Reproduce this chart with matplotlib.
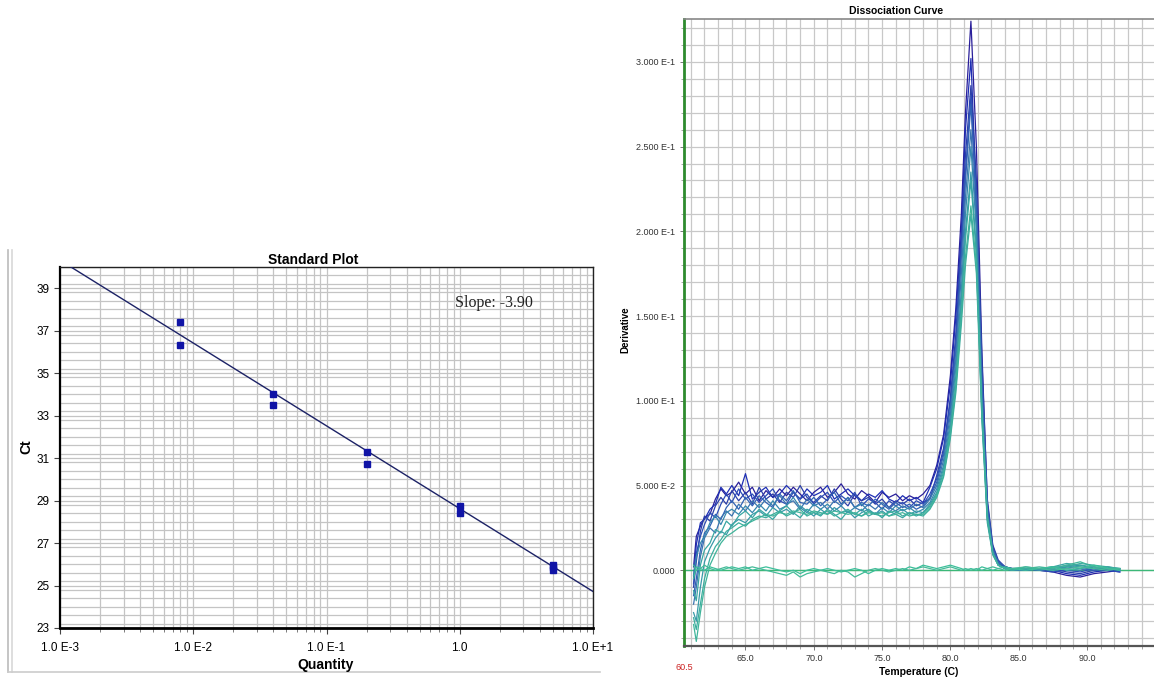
import numpy as np
import matplotlib
matplotlib.use("Agg")
import matplotlib.pyplot as plt
from matplotlib.lines import Line2D
from matplotlib.ticker import LogLocator, FixedLocator, MultipleLocator, NullFormatter

plt.rcParams['font.family'] = ['Liberation Sans', 'DejaVu Sans']

# ---------------- Standard plot data ----------------
quantity = [0.008, 0.008, 0.04, 0.04, 0.2, 0.2, 1.0, 1.0, 5.0, 5.0, 5.0]
ct_values = [37.4, 36.35, 34.0, 33.5, 31.3, 30.7, 28.75, 28.4, 25.98, 25.85, 25.75]
slope = -3.90
intercept = 28.62
std_xticks = [1e-3, 1e-2, 1e-1, 1.0, 1e1]
std_xlabels = ["1.0 E-3", "1.0 E-2", "1.0 E-1", "1.0", "1.0 E+1"]
std_yticks = [23, 25, 27, 29, 31, 33, 35, 37, 39]

# ---------------- Dissociation curve data ----------------
temperature = [61.2, 61.4, 61.7, 62.0, 62.4, 62.8, 63.2, 63.6, 64.0,
               64.5, 65.0, 65.5, 66.0, 66.5, 67.0, 67.5, 68.0, 68.5, 69.0, 69.5, 70.0,
               70.5, 71.0, 71.5, 72.0, 72.5, 73.0, 73.5, 74.0, 74.5, 75.0, 75.5, 76.0,
               76.5, 77.0, 77.5, 78.0,
               78.5, 79.0, 79.5, 80.0, 80.4, 80.8, 81.1, 81.5,
               81.9, 82.3, 82.7, 83.1, 83.5, 84.0, 84.5,
               85.5, 86.5, 87.5, 88.5, 89.5, 90.5, 91.5, 92.4]

# derivative values in units of 1E-2
deriv_a = [0.2, 2.0, 2.6, 3.1, 3.3, 4.2, 4.8, 4.4, 4.6,
           5.2, 4.5, 4.9, 4.1, 4.7, 4.3, 4.8, 4.4, 4.9, 4.5, 4.1, 4.6,
           4.9, 4.3, 4.6, 5.1, 4.5, 4.2, 4.7, 4.4, 4.0, 4.6, 4.3, 4.5, 4.1, 4.4, 4.2, 4.5,
           5.0, 6.2, 8.0, 11.5, 15.5, 21.0, 27.0, 32.4,
           25.0, 13.0, 4.0, 1.4, 0.5, 0.2, 0.1,
           0.1, 0.0, -0.1, -0.3, -0.4, -0.2, -0.1, 0.0]
deriv_b = [-0.5, 1.5, 2.8, 3.0, 3.6, 3.9, 4.9, 4.5, 5.0,
           4.4, 5.7, 4.2, 4.6, 4.9, 4.3, 4.5, 5.0, 4.6, 4.2, 4.8, 4.4,
           4.6, 5.0, 4.2, 4.5, 4.8, 4.4, 4.1, 4.5, 4.3, 4.7, 4.2, 4.0, 4.4, 4.1, 4.3, 4.0,
           4.9, 6.0, 7.8, 11.0, 15.0, 20.0, 26.0, 30.2,
           22.0, 11.0, 3.5, 1.2, 0.4, 0.2, 0.1,
           0.0, 0.1, 0.0, -0.2, -0.3, -0.1, 0.0, -0.1]
deriv_c = [-1.0, 0.5, 2.3, 3.2, 2.9, 3.8, 4.3, 3.9, 4.7,
           4.1, 4.6, 3.9, 4.9, 4.2, 4.5, 4.0, 4.6, 4.3, 5.0, 4.3, 4.0,
           4.4, 4.1, 4.8, 4.2, 3.8, 4.5, 4.1, 4.3, 3.9, 4.2, 3.7, 4.1, 3.9, 4.2, 3.8, 4.0,
           4.2, 5.6, 7.2, 10.2, 14.0, 19.5, 24.5, 28.6,
           23.0, 12.5, 4.2, 1.5, 0.6, 0.2, 0.1,
           0.1, 0.0, 0.1, -0.1, -0.2, 0.0, 0.1, 0.0]
deriv_d = [-0.8, 1.0, 2.0, 2.7, 3.4, 3.1, 3.9, 4.5, 4.0,
           4.8, 4.2, 4.5, 4.0, 4.4, 4.8, 4.1, 3.9, 4.6, 4.2, 4.5, 3.9,
           4.3, 4.6, 4.0, 4.4, 4.1, 4.6, 3.8, 4.2, 4.0, 3.6, 4.1, 3.8, 4.0, 3.7, 4.1, 3.9,
           4.5, 5.4, 7.0, 10.0, 13.5, 19.0, 23.5, 28.0,
           21.0, 10.5, 3.2, 1.1, 0.4, 0.1, 0.0,
           0.1, 0.0, -0.1, 0.0, -0.1, 0.1, 0.0, -0.1]
deriv_e = [-1.5, -0.5, 1.2, 2.2, 2.6, 3.3, 3.0, 3.7, 4.1,
           3.6, 4.3, 3.8, 4.4, 4.0, 3.7, 4.5, 4.1, 4.7, 4.0, 3.9, 4.3,
           3.8, 4.2, 4.6, 3.9, 4.3, 3.7, 4.0, 3.8, 4.2, 3.9, 3.6, 4.0, 3.7, 3.9, 3.6, 3.8,
           4.3, 5.2, 6.8, 9.6, 13.0, 18.5, 23.0, 27.5,
           22.0, 11.5, 3.8, 1.3, 0.5, 0.2, 0.0,
           0.0, 0.1, 0.0, 0.2, 0.1, 0.0, 0.1, 0.0]
deriv_f = [-2.0, -1.0, 0.8, 1.9, 2.5, 2.2, 3.1, 3.5, 3.2,
           3.9, 3.5, 4.1, 3.7, 4.2, 3.8, 4.4, 3.9, 4.1, 3.6, 4.2, 3.8,
           4.0, 3.6, 4.1, 3.8, 4.3, 3.7, 3.5, 3.9, 3.6, 4.0, 3.7, 3.5, 3.8, 3.6, 3.9, 3.7,
           4.2, 5.0, 6.5, 9.2, 12.5, 17.5, 22.0, 26.0,
           20.5, 10.5, 3.5, 1.2, 0.4, 0.1, 0.0,
           0.1, 0.0, 0.2, 0.1, 0.0, 0.2, 0.0, 0.1]
deriv_g = [-0.3, 0.8, 1.6, 2.0, 2.8, 3.2, 2.7, 3.4, 3.6,
           3.3, 3.8, 3.4, 3.9, 3.5, 4.1, 3.6, 3.8, 4.3, 3.7, 3.4, 3.9,
           3.6, 3.9, 3.5, 3.8, 3.4, 3.7, 3.9, 3.5, 3.3, 3.7, 3.4, 3.8, 3.5, 3.7, 3.4, 3.6,
           4.0, 4.8, 6.2, 8.8, 12.0, 16.5, 21.0, 25.0,
           20.0, 10.0, 3.3, 1.0, 0.3, 0.1, 0.0,
           0.0, 0.1, 0.0, 0.2, 0.3, 0.1, 0.2, 0.0]
deriv_h = [-2.5, -3.0, -1.0, 0.5, 1.3, 1.9, 2.3, 2.1, 2.7,
           3.0, 2.8, 3.3, 3.5, 3.2, 3.7, 3.4, 3.6, 3.3, 3.8, 3.5, 3.2,
           3.6, 3.3, 3.7, 3.4, 3.5, 3.1, 3.4, 3.6, 3.3, 3.5, 3.2, 3.4, 3.6, 3.3, 3.5, 3.4,
           3.9, 4.6, 6.0, 8.5, 11.5, 16.0, 20.0, 23.5,
           19.0, 9.5, 3.0, 1.0, 0.3, 0.1, 0.1,
           0.1, 0.0, 0.1, 0.3, 0.2, 0.1, 0.2, 0.1]
deriv_i = [-1.2, -1.8, 0.3, 1.2, 1.6, 2.4, 2.2, 2.9, 2.6,
           3.2, 3.5, 3.1, 3.6, 3.3, 3.0, 3.5, 3.8, 3.4, 3.1, 3.6, 3.4,
           3.2, 3.6, 3.3, 3.0, 3.5, 3.3, 3.6, 3.2, 3.4, 3.1, 3.5, 3.3, 3.1, 3.4, 3.2, 3.4,
           3.8, 4.5, 5.8, 8.2, 11.0, 15.5, 19.5, 23.0,
           18.5, 9.0, 2.8, 0.9, 0.3, 0.1, 0.0,
           0.2, 0.1, 0.2, 0.4, 0.3, 0.2, 0.1, 0.0]
deriv_j = [-3.2, -4.2, -2.5, -1.0, 0.3, 1.0, 1.6, 2.0, 2.2,
           2.5, 2.7, 2.9, 3.1, 3.3, 3.2, 3.4, 3.3, 3.5, 3.4, 3.3, 3.5,
           3.4, 3.3, 3.5, 3.4, 3.3, 3.4, 3.2, 3.4, 3.3, 3.4, 3.2, 3.3, 3.4, 3.2, 3.3, 3.3,
           3.7, 4.4, 5.6, 8.0, 10.8, 15.0, 18.5, 21.5,
           18.0, 9.5, 3.2, 1.0, 0.3, 0.1, 0.1,
           0.1, 0.2, 0.1, 0.3, 0.5, 0.2, 0.1, 0.1]
deriv_k = [-2.8, -3.5, -2.0, -0.5, 0.7, 1.4, 1.8, 2.3, 2.5,
           2.8, 2.6, 3.0, 3.2, 3.1, 3.3, 3.5, 3.2, 3.4, 3.6, 3.2, 3.4,
           3.3, 3.5, 3.2, 3.4, 3.6, 3.3, 3.2, 3.5, 3.3, 3.2, 3.4, 3.5, 3.2, 3.4, 3.3, 3.2,
           3.6, 4.3, 5.5, 7.8, 10.5, 14.5, 18.0, 21.0,
           17.5, 9.0, 3.0, 1.0, 0.3, 0.1, 0.0,
           0.1, 0.1, 0.2, 0.2, 0.4, 0.3, 0.2, 0.1]
deriv_ntc1 = [-0.5, 0.2, 0.1, 0.0, 0.2, 0.1, 0.0, 0.1, 0.2,
              0.1, 0.2, 0.0, 0.1, 0.2, 0.1, 0.0, -0.1, 0.0, -0.2, 0.0, 0.1,
              0.0, 0.1, 0.0, -0.1, 0.0, 0.1, 0.0, -0.2, 0.0, 0.1, 0.0, 0.1, 0.0, 0.2, 0.1, 0.3,
              0.2, 0.1, 0.2, 0.3, 0.2, 0.1, 0.0, 0.1,
              0.0, 0.2, 0.1, 0.0, 0.1, 0.2, 0.1,
              0.0, 0.1, 0.2, 0.0, 0.1, 0.3, 0.1, 0.0]
deriv_ntc2 = [0.3, 0.0, 0.1, 0.3, 0.1, 0.0, 0.1, 0.2, 0.1,
              0.0, 0.1, 0.2, 0.1, 0.0, -0.1, -0.2, -0.3, -0.1, -0.4, -0.2, -0.1,
              0.0, -0.1, -0.2, 0.0, -0.1, -0.4, -0.2, 0.0, 0.1, 0.0, -0.1, 0.0, 0.1, 0.0, 0.1, 0.2,
              0.1, 0.0, 0.1, 0.2, 0.1, 0.0, 0.1, 0.0,
              0.1, 0.0, 0.1, 0.2, 0.1, 0.0, 0.1,
              0.2, 0.1, 0.0, 0.1, 0.2, 0.1, 0.0, 0.1]

curves = [deriv_a, deriv_b, deriv_c, deriv_d, deriv_e, deriv_f,
          deriv_g, deriv_h, deriv_i, deriv_j, deriv_k, deriv_ntc1, deriv_ntc2]
curve_colors = ["#2a1f9a", "#1e2fb4", "#2c3fa8", "#2d4db6", "#2f62b4", "#3a74b0",
                "#3688ae", "#389aa8", "#38a6a2", "#40b49a", "#3cae9e", "#3cbf9a", "#44bb98"]

diss_yticks = [0.0, 0.05, 0.10, 0.15, 0.20, 0.25, 0.30]
diss_ylabels = ["0.000", "5.000 E-2", "1.000 E-1", "1.500 E-1", "2.000 E-1", "2.500 E-1", "3.000 E-1"]
diss_xticks = [65.0, 70.0, 75.0, 80.0, 85.0, 90.0]

# ---------------- Figure ----------------
W, H = 1154, 679
fig = plt.figure(figsize=(W / 100, H / 100), dpi=100)
fig.patch.set_facecolor("white")

def fx(px):
    return px / W

def fy(py):
    return 1 - py / H

# ---- Left: Standard Plot ----
ax1 = fig.add_axes([fx(60), fy(628), fx(593) - fx(60), fy(267) - fy(628)])
ax1.set_xscale("log")
ax1.set_xlim(1e-3, 1e1)
ax1.set_ylim(23, 40)
ax1.xaxis.set_major_locator(FixedLocator(std_xticks))
ax1.set_xticklabels(std_xlabels)
ax1.xaxis.set_minor_locator(LogLocator(base=10, subs=np.arange(2, 10)))
ax1.xaxis.set_minor_formatter(NullFormatter())
ax1.set_yticks(std_yticks)
ax1.yaxis.set_minor_locator(MultipleLocator(0.4))
ax1.grid(True, which="both", color="#c4c4c4", linewidth=0.9)
ax1.set_axisbelow(True)
ax1.tick_params(axis="both", which="major", labelsize=8.5, length=4, width=0.8, color="#444444")
ax1.tick_params(axis="x", which="major", pad=6)
ax1.tick_params(axis="both", which="minor", length=3, width=0.6, color="#666666")
ax1.tick_params(axis="y", which="minor", length=0)
for s in ["top", "right"]:
    ax1.spines[s].set_linewidth(1.0)
    ax1.spines[s].set_color("#222222")
ax1.spines["left"].set_linewidth(1.6)
ax1.spines["bottom"].set_linewidth(2.0)

xfit = np.array([1e-3, 1e1])
ax1.plot(xfit, intercept + slope * np.log10(xfit), color="#1c2266", linewidth=1.0, zorder=3)
ax1.plot(quantity, ct_values, linestyle="none", marker="s", markersize=5,
         color="#1014a6", zorder=4)

fig.text(fx(313), fy(260), "Standard Plot", ha="center", va="center",
         fontsize=10, fontweight="bold")
fig.text(fx(26), fy(447), "Ct", ha="center", va="center", rotation=90,
         fontsize=10, fontweight="bold")
fig.text(fx(326), fy(665), "Quantity", ha="center", va="center",
         fontsize=10, fontweight="bold")
fig.text(fx(455), fy(303), "Slope: -3.90", ha="left", va="center",
         fontsize=11.5, family=["Liberation Serif", "DejaVu Serif"], color="#222222")

# window frame lines for left panel
fig.add_artist(Line2D([fx(8), fx(8)], [fy(250), fy(672)], color="#bbbbbb", linewidth=1.2))
fig.add_artist(Line2D([fx(12), fx(12)], [fy(250), fy(672)], color="#d8d8d8", linewidth=1.2))
fig.add_artist(Line2D([fx(8), fx(600)], [fy(672), fy(672)], color="#cccccc", linewidth=1.2))

# ---- Right: Dissociation Curve ----
ax2 = fig.add_axes([fx(684), fy(646), fx(1154) - fx(684), fy(19) - fy(646)])
ax2.set_xlim(60.5, 94.9)
ax2.set_ylim(-0.0447, 0.3253)
ax2.set_xticks(diss_xticks)
ax2.set_xticklabels(["%.1f" % t for t in diss_xticks])
ax2.xaxis.set_minor_locator(MultipleLocator(1.0))
ax2.set_yticks(diss_yticks)
ax2.set_yticklabels(diss_ylabels)
ax2.yaxis.set_minor_locator(MultipleLocator(0.01))
ax2.grid(True, which="both", color="#c8c8c8", linewidth=0.9)
ax2.set_axisbelow(True)
ax2.tick_params(axis="both", which="major", labelsize=6.5, length=3, width=0.7,
                color="#777777", labelcolor="#333333")
ax2.tick_params(axis="both", which="minor", length=2, width=0.6, color="#999999")
ax2.tick_params(axis="x", which="major", pad=3)
ax2.spines["left"].set_color("#2e8b2e")
ax2.spines["left"].set_linewidth(2.0)
ax2.spines["bottom"].set_color("#555555")
ax2.spines["bottom"].set_linewidth(1.6)
ax2.spines["top"].set_color("#888888")
ax2.spines["top"].set_linewidth(1.2)
ax2.spines["right"].set_visible(False)

ax2.axhline(0.0, color="#3cb878", linewidth=1.0, zorder=2)
t_arr = np.array(temperature)
for vals, col in zip(curves, curve_colors):
    ax2.plot(t_arr, np.array(vals) / 100.0, color=col, linewidth=0.9, zorder=3)

fig.text(fx(684), fy(667), "60.5", ha="center", va="center",
         fontsize=6.5, color="#cc2222")

fig.text(fx(896), fy(11), "Dissociation Curve", ha="center", va="center",
         fontsize=7.5, fontweight="bold")
fig.text(fx(625), fy(330), "Derivative", ha="center", va="center", rotation=90,
         fontsize=7, fontweight="bold")
fig.text(fx(919), fy(672), "Temperature (C)", ha="center", va="center",
         fontsize=7.5, fontweight="bold")

fig.savefig("out.png", dpi=100, facecolor="white")
